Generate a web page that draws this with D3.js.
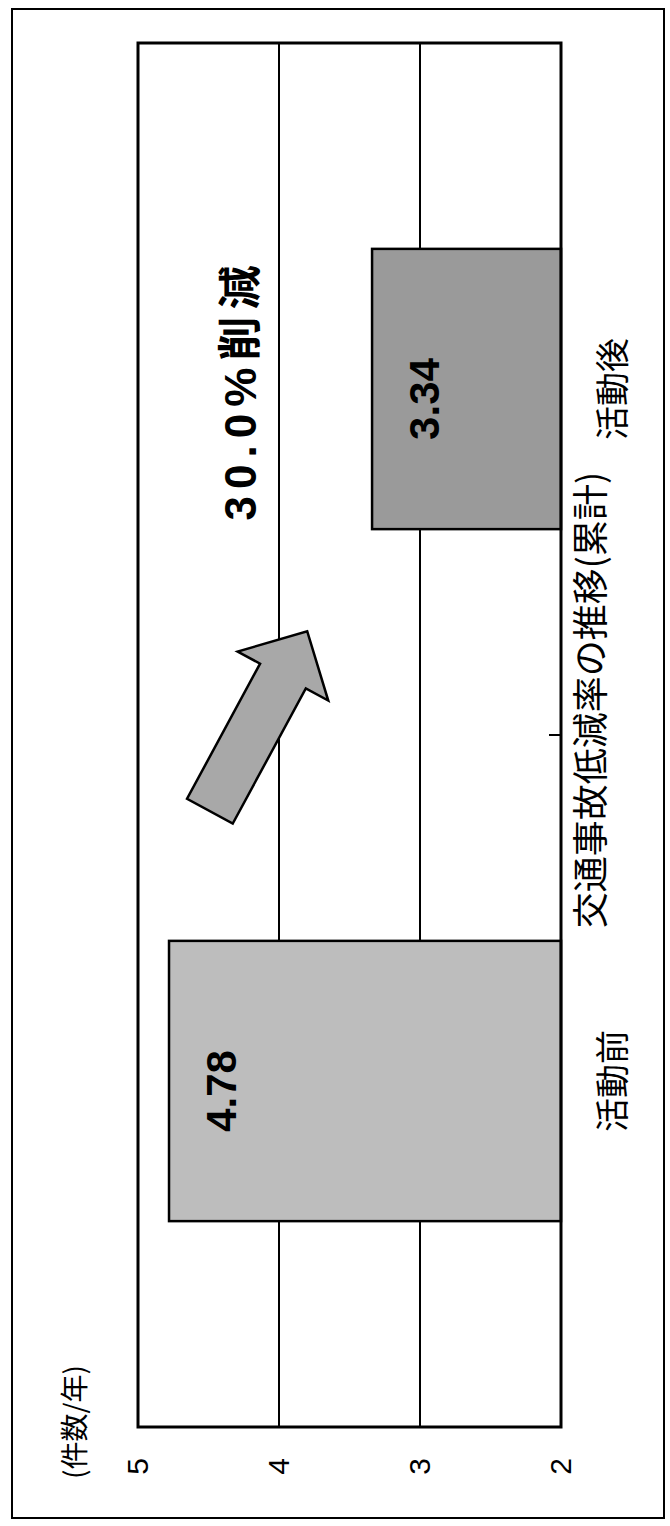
<!DOCTYPE html>
<html>
<head>
<meta charset="utf-8">
<script src="https://cdn.jsdelivr.net/npm/d3@7"></script>
<style>
  body { margin: 0; background: #fff; }
  svg { display: block; }
</style>
</head>
<body>
<div id="chart"></div>
<script>
// data
const categories = ["活動前", "活動後"];
const values = [4.78, 3.34];
const valueLabels = ["4.78", "3.34"];
const yTicks = [5, 4, 3, 2];
const titleText = "交通事故低減率の推移(累計)";
const unitText = "(件数/年)";
const noteText = "30.0%削減";
const barColors = ["#bdbdbd", "#9a9a9a"];

// page is the chart turned a quarter turn counter-clockwise
const W = 670, H = 1526;
const plot = {left: 99, right: 1483, top: 138, bottom: 561}; // in unrotated frame

const svg = d3.select("#chart").append("svg")
    .attr("width", W)
    .attr("height", H);

svg.append("rect")
    .attr("x", 12).attr("y", 9)
    .attr("width", 652).attr("height", 1509)
    .attr("fill", "none")
    .attr("stroke", "#000")
    .attr("stroke-width", 2);

// u runs along the old x axis (screen bottom -> top), v along old y (screen left -> right)
const g = svg.append("g")
    .attr("transform", "translate(0," + H + ") rotate(-90)");

const x = d3.scaleBand()
    .domain(categories)
    .range([plot.left, plot.right])
    .paddingInner(0.595)
    .paddingOuter(0.2975);

const y = d3.scaleLinear()
    .domain([2, 5])
    .range([plot.bottom, plot.top]);

const cjk = "'Noto Sans CJK JP', 'Noto Sans', sans-serif";
const latin = "'Liberation Sans', Arial, sans-serif";

// gridlines
g.selectAll("line.grid")
    .data([3, 4])
    .enter()
    .append("line")
    .attr("class", "grid")
    .attr("x1", plot.left).attr("x2", plot.right)
    .attr("y1", d => y(d)).attr("y2", d => y(d))
    .attr("stroke", "#000")
    .attr("stroke-width", 2);

// note text with white box behind it (cuts the gridline)
const noteU = x("活動後") + x.bandwidth() / 2 - 4;
const noteV = y(4.27);
g.append("rect")
    .attr("x", noteU - 160).attr("y", noteV - 36)
    .attr("width", 320).attr("height", 52)
    .attr("fill", "#fff");
g.append("text")
    .attr("x", noteU).attr("y", noteV)
    .attr("text-anchor", "middle")
    .attr("dominant-baseline", "central")
    .attr("font-family", latin + ", " + cjk)
    .attr("font-weight", "bold")
    .attr("font-size", 44)
    .attr("textLength", 255)
    .attr("lengthAdjust", "spacing")
    .text(noteText);

// bars
g.selectAll("rect.bar")
    .data(values)
    .enter()
    .append("rect")
    .attr("class", "bar")
    .attr("x", (d, i) => x(categories[i]))
    .attr("y", d => y(d))
    .attr("width", x.bandwidth())
    .attr("height", d => plot.bottom - y(d))
    .attr("fill", (d, i) => barColors[i])
    .attr("stroke", "#000")
    .attr("stroke-width", 2.5);

// value labels inside the bar ends
g.selectAll("text.val")
    .data(values)
    .enter()
    .append("text")
    .attr("class", "val")
    .attr("x", (d, i) => x(categories[i]) + x.bandwidth() / 2 - 10)
    .attr("y", d => y(d) + 52)
    .attr("text-anchor", "middle")
    .attr("dominant-baseline", "central")
    .attr("font-family", latin)
    .attr("font-weight", "bold")
    .attr("font-size", 42)
    .text((d, i) => valueLabels[i]);

// plot border
g.append("rect")
    .attr("x", plot.left).attr("y", plot.top)
    .attr("width", plot.right - plot.left)
    .attr("height", plot.bottom - plot.top)
    .attr("fill", "none")
    .attr("stroke", "#000")
    .attr("stroke-width", 3);

// category divider tick (inside)
const mid = (x(categories[0]) + x.bandwidth() + x(categories[1])) / 2;
g.append("line")
    .attr("x1", mid).attr("x2", mid)
    .attr("y1", plot.bottom).attr("y2", plot.bottom - 12)
    .attr("stroke", "#000")
    .attr("stroke-width", 2);

// value axis
const yAxis = g.append("g")
    .attr("transform", "translate(" + plot.left + ",0)")
    .call(d3.axisLeft(y).tickValues(yTicks).tickFormat(d3.format("d")).tickSize(0).tickPadding(31));
yAxis.select(".domain").remove();
yAxis.selectAll("text")
    .attr("font-family", latin)
    .attr("font-size", 30)
    .attr("fill", "#000");

// category labels
g.selectAll("text.cat")
    .data(categories)
    .enter()
    .append("text")
    .attr("class", "cat")
    .attr("x", d => x(d) + x.bandwidth() / 2)
    .attr("y", 610)
    .attr("text-anchor", "middle")
    .attr("dominant-baseline", "central")
    .attr("font-family", cjk)
    .attr("font-size", 34)
    .text(d => d);

// title and unit
g.append("text")
    .attr("x", (plot.left + plot.right) / 2 + 35)
    .attr("y", 588)
    .attr("text-anchor", "middle")
    .attr("dominant-baseline", "central")
    .attr("font-family", cjk)
    .attr("font-size", 36)
    .text(titleText);

g.append("text")
    .attr("x", 104)
    .attr("y", 73)
    .attr("text-anchor", "middle")
    .attr("dominant-baseline", "central")
    .attr("font-family", cjk)
    .attr("font-size", 28)
    .text(unitText);

// block arrow between the bars
const a0 = [x.range()[0] + 0.445 * (plot.right - plot.left), y(4.49)];
const a1 = [x.range()[0] + 0.575 * (plot.right - plot.left), y(3.80)];
const dx = a1[0] - a0[0], dy = a1[1] - a0[1];
const len = Math.hypot(dx, dy);
const ux = dx / len, uy = dy / len, nx = -uy, ny = ux;
const shaftW = 52, headW = 103, headL = 51;
const hb = [a1[0] - ux * headL, a1[1] - uy * headL];
const pts = [
    [a0[0] + nx * shaftW / 2, a0[1] + ny * shaftW / 2],
    [hb[0] + nx * shaftW / 2, hb[1] + ny * shaftW / 2],
    [hb[0] + nx * headW / 2, hb[1] + ny * headW / 2],
    a1,
    [hb[0] - nx * headW / 2, hb[1] - ny * headW / 2],
    [hb[0] - nx * shaftW / 2, hb[1] - ny * shaftW / 2],
    [a0[0] - nx * shaftW / 2, a0[1] - ny * shaftW / 2]
];
g.append("path")
    .attr("d", d3.line()(pts) + "Z")
    .attr("fill", "#a8a8a8")
    .attr("stroke", "#000")
    .attr("stroke-width", 2.5)
    .attr("stroke-linejoin", "miter");
</script>
</body>
</html>
